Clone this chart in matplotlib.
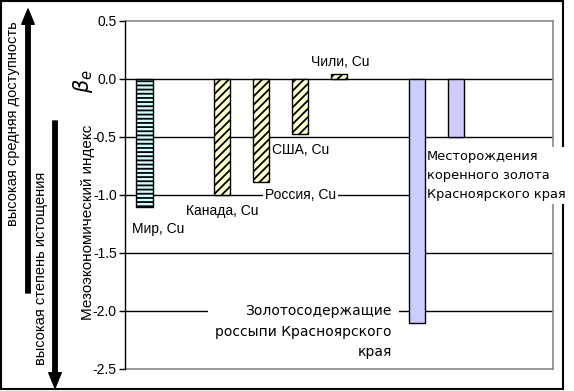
import matplotlib
matplotlib.use('Agg')
import matplotlib.pyplot as plt
from matplotlib.patches import Rectangle

plt.rcParams['font.family'] = ['Liberation Sans', 'DejaVu Sans']
plt.rcParams['hatch.linewidth'] = 1.3

# slot positions of the bars (Excel category slots, some left empty)
positions = [0, 2, 3, 4, 5, 7, 8]
values = [-1.1, -1.0, -0.89, -0.47, 0.04, -2.1, -0.5]
colors = ['#CCFFFF', '#FFFFCC', '#FFFFCC', '#FFFFCC', '#FFFFCC', '#CCCCFF', '#CCCCFF']
hatches = ['----', '////', '////', '////', '////', None, None]
yticks = [0.5, 0.0, -0.5, -1.0, -1.5, -2.0, -2.5]

fig = plt.figure(figsize=(5.74, 3.91), dpi=100)
ax = fig.add_axes([125 / 574, 22 / 391, 428 / 574, 348 / 391])

for y in yticks[1:-1]:
    ax.axhline(y, color='black', lw=1, zorder=1)

for x, v, c, h in zip(positions, values, colors, hatches):
    ax.bar(x, v, width=0.42, color=c, hatch=h, edgecolor='black', lw=1, zorder=6)

ax.set_xlim(-0.5, 10.5)
ax.set_ylim(-2.5, 0.5)
ax.set_yticks(yticks)
ax.set_yticklabels(['%.1f' % t for t in yticks], fontsize=10)
ax.set_xticks([])
ax.tick_params(axis='y', direction='out', length=4, width=1, pad=2)
for s in ['top', 'right', 'bottom']:
    ax.spines[s].set_color('#888888')
    ax.spines[s].set_linewidth(1.2)
ax.spines['left'].set_linewidth(1)
ax.spines['left'].set_zorder(7)

lab = dict(fontsize=10, va='center', zorder=5, clip_on=False)
wide = dict(va='center', zorder=5, clip_on=False,
            family='DejaVu Sans', linespacing=1.6)
box = dict(boxstyle='square,pad=0.15', fc='white', ec='none')
ax.text(-0.32, -1.29, 'Мир, Cu', ha='left', **lab)
ax.text(1.07, -1.14, 'Канада, Cu', ha='left', **lab)
ax.text(3.10, -1.0, 'Россия, Cu', ha='left', bbox=box, **lab)
ax.text(3.28, -0.61, 'США, Cu', ha='left', **lab)
ax.text(4.28, 0.147, 'Чили, Cu', ha='left', **lab)
ax.text(6.36, -2.18, 'Золотосодержащие\nроссыпи Красноярского\nкрая', ha='right',
        multialignment='right', fontsize=10,
        bbox=dict(boxstyle='square,pad=0.5', fc='white', ec='none'), **wide)
ax.text(7.26, -0.83, 'Месторождения\nкоренного золота\nКрасноярского края', ha='left',
        multialignment='left', fontsize=9.4,
        bbox=dict(boxstyle='square,pad=0.25', fc='white', ec='none'), **wide)

# outer frame
fig.patches.append(Rectangle((1, 2), 562, 388, transform=None, fill=False,
                             ec='black', lw=1.5, zorder=-1))

# y axis titles
fig.text(88, 169, 'Мезоэкономический индекс', transform=None, rotation=90,
         fontsize=11, ha='center', va='center')
fig.text(83, 310, r'$\beta_e$', transform=None, rotation=90,
         fontsize=15, ha='center', va='center')

# side arrows
arr = dict(width=3.2, headwidth=9, headlength=11, color='black', shrink=0)
ax.annotate('', xy=(28, 382), xytext=(28, 98), xycoords='figure pixels',
            textcoords='figure pixels', arrowprops=arr)
ax.annotate('', xy=(55, 3), xytext=(55, 270), xycoords='figure pixels',
            textcoords='figure pixels', arrowprops=arr)
fig.text(13, 267, 'высокая средняя доступность', transform=None, rotation=90,
         fontsize=10.5, ha='center', va='center')
fig.text(41, 123, 'высокая степень истощения', transform=None, rotation=90,
         fontsize=10.5, ha='center', va='center')

fig.savefig('out.png', dpi=100)
